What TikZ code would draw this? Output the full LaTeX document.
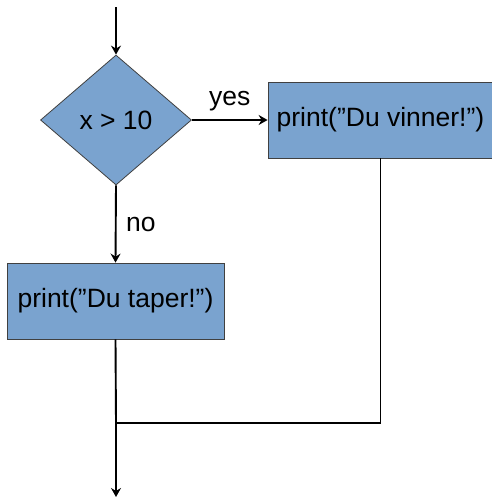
\documentclass[tikz,border=0pt]{standalone}
\usepackage{fontspec}
\setmainfont{Liberation Sans}
\usetikzlibrary{shapes.geometric, arrows.meta}
\definecolor{flowblue}{RGB}{122,163,207}
\tikzset{
  flowline/.style={line width=1.9pt, black},
  decision/.style={diamond, draw=black!75, fill=flowblue, line width=0.8pt,
    inner sep=0pt, minimum width=151pt, minimum height=130pt, aspect=1.16},
  printbox/.style={rectangle, draw=black!75, fill=flowblue, line width=0.8pt,
    minimum height=76pt, inner sep=0pt},
  flowtext/.style={font=\fontsize{26.5}{30}\selectfont}
}

\begin{document}
\begin{tikzpicture}[x=1pt, y=-1pt, >={Stealth[length=9pt, width=10pt, inset=3pt]}] % {{{
\useasboundingbox (0,0) rectangle (491,499);
\pgfmathsetmacro{\midx}{116}
% Nodes {{{
\coordinate (start) at (\midx,7);
\node[decision, flowtext] at (\midx,120) (test) {x > 10};
\node[printbox, flowtext, minimum width=225pt] at (380.5,120) (win) {print(”Du vinner!”)};
\node[printbox, flowtext, minimum width=217pt] at (115.5,301) (lose) {print(”Du taper!”)};
\coordinate (merge) at (\midx,423);
\coordinate (stop) at (\midx,497);
% }}}
% Connectors {{{
\draw[flowline, ->] (start) -- (test.north);
\draw[flowline, ->] (test.east) -- (win.west)
  node[midway, flowtext, above=5pt] (yes) {yes};
\draw[flowline, ->] (test.south) -- (lose.north)
  node[flowtext, pos=0.5, right=6pt] (no) {no};
\draw[flowline] (win.south) |- (merge);
\draw[flowline, ->] (lose.south) -- (merge) -- (stop);
% }}}
\end{tikzpicture} % }}}
\end{document}
